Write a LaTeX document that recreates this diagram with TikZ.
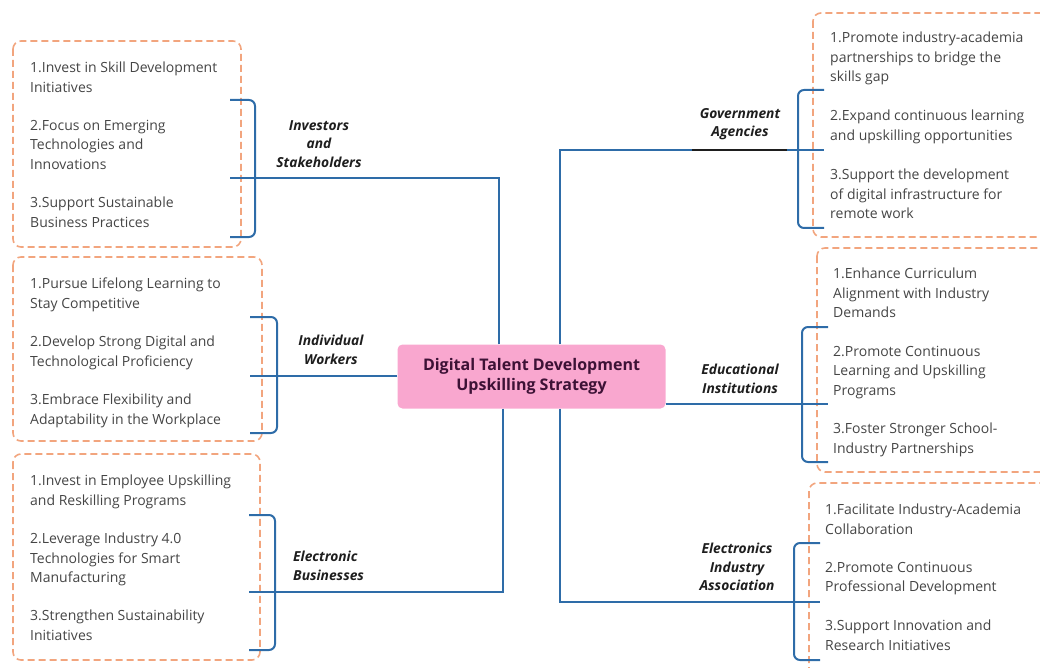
\documentclass[tikz,border=0pt]{standalone}
\usepackage{fontspec}
\setmainfont{Open Sans}

\definecolor{linkblue}{HTML}{2E6CA8}
\definecolor{boxorange}{HTML}{F2A57E}
\definecolor{corepink}{HTML}{F9A7CF}
\definecolor{coretext}{HTML}{3D1236}
\definecolor{itemgray}{HTML}{454545}
\definecolor{labelink}{HTML}{1E1E1E}

\begin{document}
\begin{tikzpicture}[x=1pt,y=-1pt,
    item/.style={anchor=north west,inner sep=0pt,align=left,text=itemgray,
        font=\fontsize{14}{19.5}\selectfont,execute at begin node=\strut},
    group/.style={inner sep=1pt,align=center,text=labelink,
        font=\fontsize{13.8}{18.5}\selectfont\bfseries\itshape},
    frame/.style={draw=boxorange,line width=1.6pt,dash pattern=on 7pt off 4pt,rounded corners=8pt},
    link/.style={draw=linkblue,line width=2pt},
    brace/.style={draw=linkblue,line width=2pt,rounded corners=6pt}]

    % Fix the page to the size of the reference
    \useasboundingbox (0,0) rectangle (1040,668);

    % Dashed frames round the lists
    \draw[frame] (13,41) rectangle (241,247);
    \draw[frame] (13,257) rectangle (262,441);
    \draw[frame] (13,454) rectangle (260,660);
    \draw[frame] (813,13) rectangle (1048,237);
    \draw[frame] (817,248) rectangle (1048,472);
    \draw[frame] (809,483) rectangle (1048,680);

    % The central topic
    \node[fill=corepink,rounded corners=5pt,minimum width=268pt,minimum height=64pt,
        align=center,text=coretext,font=\fontsize{16}{20}\selectfont\bfseries]
        (core) at (531.5,376.5) {Digital Talent Development\\Upskilling Strategy};

    % Group labels
    \node[group] (inv) at (319,144) {Investors\\and\\Stakeholders};
    \node[group] (iw) at (331,350) {Individual\\Workers};
    \node[group,anchor=west,align=left] (eb) at (292,566) {Electronic\\Businesses};
    \node[group] (gov) at (740,124) {Government\\Agencies};
    \node[group] (edu) at (740,379) {Educational\\Institutions};
    \node[group] (eia) at (737,567) {Electronics\\Industry\\Association};

    % Items of the left lists
    \node[item] (inv1) at (30,62) {1.Invest in Skill Development\\Initiatives};
    \node[item] (inv2) at (30,120) {2.Focus on Emerging\\Technologies and\\Innovations};
    \node[item] (inv3) at (30,197) {3.Support Sustainable\\Business Practices};
    \node[item] (iw1) at (30,278) {1.Pursue Lifelong Learning to\\Stay Competitive};
    \node[item] (iw2) at (30,336) {2.Develop Strong Digital and\\Technological Proficiency};
    \node[item] (iw3) at (30,394) {3.Embrace Flexibility and\\Adaptability in the Workplace};
    \node[item] (eb1) at (30,475) {1.Invest in Employee Upskilling\\and Reskilling Programs};
    \node[item] (eb2) at (30,533) {2.Leverage Industry 4.0\\Technologies for Smart\\Manufacturing};
    \node[item] (eb3) at (30,610) {3.Strengthen Sustainability\\Initiatives};

    % Items of the right lists
    \node[item] (gov1) at (830,32) {1.Promote industry-academia\\partnerships to bridge the\\skills gap};
    \node[item] (gov2) at (830,110) {2.Expand continuous learning\\and upskilling opportunities};
    \node[item] (gov3) at (830,169) {3.Support the development\\of digital infrastructure for\\remote work};
    \node[item] (edu1) at (833,268) {1.Enhance Curriculum\\Alignment with Industry\\Demands};
    \node[item] (edu2) at (833,346) {2.Promote Continuous\\Learning and Upskilling\\Programs};
    \node[item] (edu3) at (833,423) {3.Foster Stronger School-\\Industry Partnerships};
    \node[item] (eia1) at (825,504) {1.Facilitate Industry-Academia\\Collaboration};
    \node[item] (eia2) at (825,562) {2.Promote Continuous\\Professional Development};
    \node[item] (eia3) at (825,620) {3.Support Innovation and\\Research Initiatives};

    % Ends of the brackets
    \coordinate (inv-top) at (230,100);
    \coordinate (inv-mid) at (230,178);
    \coordinate (inv-bot) at (230,237);
    \coordinate (iw-top) at (250,317);
    \coordinate (iw-mid) at (250,376);
    \coordinate (iw-bot) at (250,433);
    \coordinate (eb-top) at (249,515);
    \coordinate (eb-mid) at (249,592);
    \coordinate (eb-bot) at (249,650);
    \coordinate (gov-top) at (824,90);
    \coordinate (gov-mid) at (824,150);
    \coordinate (gov-bot) at (824,228);
    \coordinate (edu-top) at (828,327);
    \coordinate (edu-mid) at (828,404);
    \coordinate (edu-bot) at (828,462);
    \coordinate (eia-top) at (820,543);
    \coordinate (eia-mid) at (820,602);
    \coordinate (eia-bot) at (820,660);

    % Brackets
    \draw[brace] (inv-top) -- ++(25,0) |- (inv-bot);
    \draw[brace] (iw-top) -- ++(27,0) |- (iw-bot);
    \draw[brace] (eb-top) -- ++(26,0) |- (eb-bot);
    \draw[brace] (gov-top) -- ++(-26,0) |- (gov-bot);
    \draw[brace] (edu-top) -- ++(-26,0) |- (edu-bot);
    \draw[brace] (eia-top) -- ++(-26,0) |- (eia-bot);

    % Branches from the central topic
    \draw[link] ([xshift=-32.5pt]core.north) |- (inv-mid);
    \draw[link] (iw-mid -| core.west) -- (iw-mid);
    \draw[link] ([xshift=-28.5pt]core.south) |- (eb-mid);
    \draw[link] ([xshift=28.5pt]core.north) |- (gov-mid);
    \draw[link] (edu-mid -| core.east) -- (edu-mid);
    \draw[link] ([xshift=28.5pt]core.south) |- (eia-mid);

    % Dark rule under the government label
    \draw[labelink,line width=2pt] (692,150) -- (787,150);
\end{tikzpicture}
\end{document}
